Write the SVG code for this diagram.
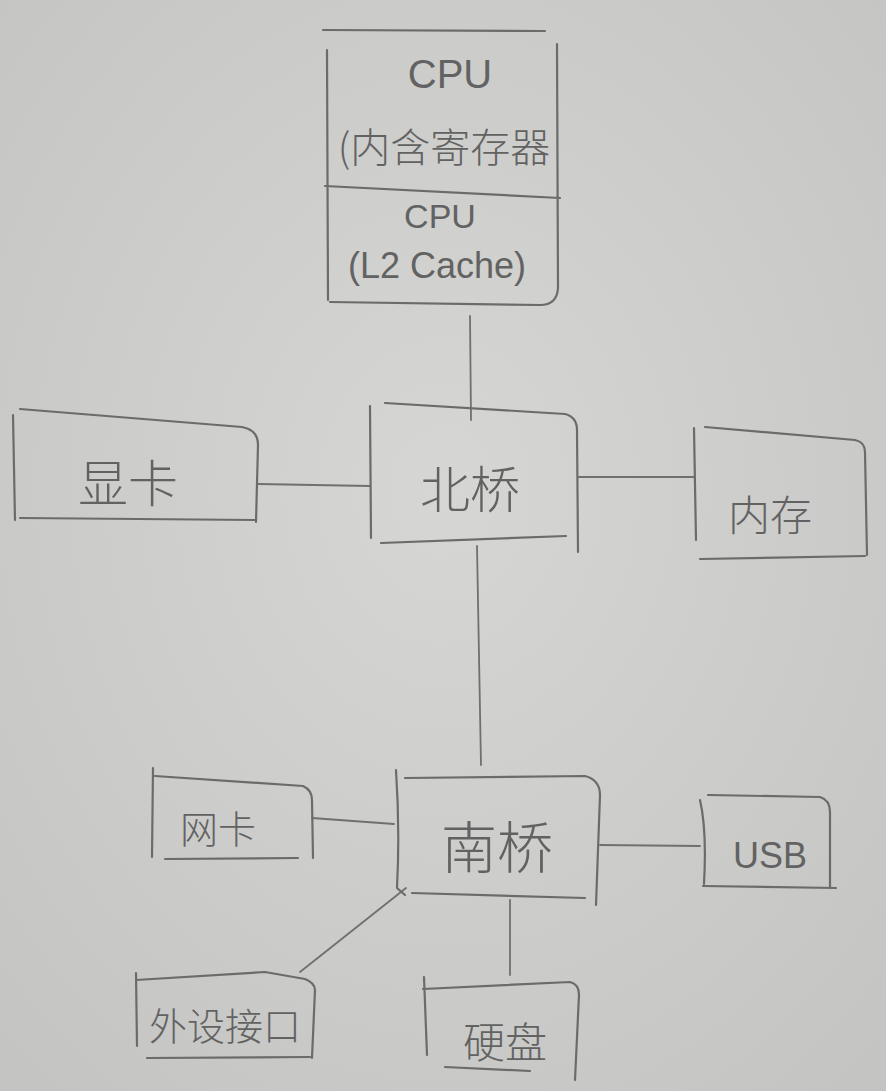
<svg xmlns="http://www.w3.org/2000/svg" width="886" height="1091" viewBox="0 0 886 1091">
<defs>
<radialGradient id="bg" cx="0.5" cy="0.45" r="0.8">
<stop offset="0" stop-color="#d6d6d4"/>
<stop offset="1" stop-color="#c2c2c0"/>
</radialGradient>
</defs>
<style>
.b{fill:none;stroke:#6b6b6b;stroke-width:2.2;stroke-linecap:round;stroke-linejoin:round}
.c{fill:none;stroke:#707070;stroke-width:1.8;stroke-linecap:round}
.t{font-family:"Noto Sans CJK SC","Noto Sans",sans-serif;font-weight:300;fill:#626262;text-anchor:middle}
.e{font-family:"Liberation Sans","Noto Sans CJK SC",sans-serif;font-weight:400;fill:#626262;text-anchor:middle}
</style>
<rect width="886" height="1091" fill="url(#bg)"/>
<g id="connectors">
<path class="c" d="M470 316 L471 420"/>
<path class="c" d="M258 484 L370 486"/>
<path class="c" d="M578 477 L694 477"/>
<path class="c" d="M477 546 L481 765"/>
<path class="c" d="M312 818 L394 824"/>
<path class="c" d="M600 845 L700 846"/>
<path class="c" d="M406 888 L300 972"/>
<path class="c" d="M510 900 L510 975"/>
</g>
<g id="cpu">
<path class="b" d="M323 30 L545 31 M327 50 L328 300 M557 44 L558 288 Q557 305 540 305 L330 302 M325 186 L560 198"/>
<text class="e" x="450" y="88" font-size="40">CPU</text>
<text class="t" x="444" y="162" font-size="40">(内含寄存器</text>
<text class="e" x="440" y="228" font-size="34">CPU</text>
<text class="e" x="437" y="278" font-size="36">(L2 Cache)</text>
</g>
<g id="northbridge">
<path class="b" d="M370 406 L371 538 M385 403 L565 414 Q577 417 577 430 L578 552 M381 543 L566 536"/>
<text class="t" x="470" y="508" font-size="50">北桥</text>
</g>
<g id="gpu">
<path class="b" d="M13 415 L15 520 M20 409 L242 427 Q258 430 258 445 L256 522 M20 518 L255 520"/>
<text class="t" x="128" y="502" font-size="50">显卡</text>
</g>
<g id="memory">
<path class="b" d="M694 428 L696 540 M705 427 L855 440 Q865 442 865 452 L867 555 M700 559 L865 556"/>
<text class="t" x="770" y="531" font-size="42">内存</text>
</g>
<g id="southbridge">
<path class="b" d="M396 770 Q400 830 397 888 L405 895 M405 778 L585 776 Q600 780 600 795 L596 905 M412 893 L585 898"/>
<text class="t" x="497" y="868" font-size="56">南桥</text>
</g>
<g id="nic">
<path class="b" d="M153 768 L152 857 M155 776 L303 786 Q312 790 312 800 L313 858 M165 859 L298 858"/>
<text class="t" x="218" y="843" font-size="38">网卡</text>
</g>
<g id="usb">
<path class="b" d="M700 800 Q707 830 704 884 M708 795 L820 797 Q830 800 830 812 L830 888 M703 886 L836 888"/>
<text class="e" x="770" y="868" font-size="36">USB</text>
</g>
<g id="io">
<path class="b" d="M136 973 L137 1046 M136 980 L265 972 L305 979 Q315 983 315 990 L312 1058 M147 1058 L310 1057"/>
<text class="t" x="225" y="1040" font-size="38">外设接口</text>
</g>
<g id="hdd">
<path class="b" d="M424 977 L427 1055 M423 989 L570 982 Q579 984 579 995 L575 1080 M445 1067 L530 1071"/>
<text class="t" x="505" y="1058" font-size="42">硬盘</text>
</g>
</svg>
